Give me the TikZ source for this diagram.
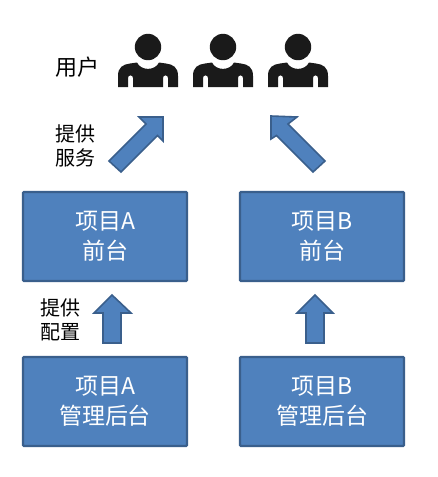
\documentclass[tikz,border=0pt]{standalone}
\usepackage{fontspec}
\setmainfont{Noto Sans CJK SC}
\definecolor{boxfill}{HTML}{4F81BD}
\definecolor{boxedge}{HTML}{3A5F8C}
\definecolor{inkdark}{HTML}{1A1A1A}
\tikzset{
  projbox/.style={draw=boxedge,line width=2.4pt,fill=boxfill,rounded corners=1pt,minimum width=164pt,minimum height=89pt,inner sep=0pt,text=white,font=\fontsize{23}{30}\selectfont,align=center},
  lbl/.style={inner sep=0pt,text=black,font=\fontsize{20}{24.5}\selectfont,align=center},
  userlbl/.style={lbl,font=\fontsize{22}{26}\selectfont},
  blockarrow/.style={draw=boxedge,line width=1.6pt,fill=boxfill,miter limit=10},
  personart/.style={fill=inkdark,draw=none}
}
\newcommand{\personfig}[2]{%
  \begin{scope}[shift={(#1,#2)}]
    \fill[personart] (0,0) circle (13.2);
    \fill[personart]
      (-30,40) -- (-30,29) .. controls (-30,20) and (-25,17.5) .. (-18,16.5)
      -- (-11,15.5) .. controls (-7,24) and (7,24) .. (11,15.5)
      -- (18,16.5) .. controls (25,17.5) and (30,20) .. (30,29)
      -- (30,40) -- (20,40) -- (20,31) .. controls (20,27.5) and (15,27.5) .. (15,31)
      -- (15,40) -- (-15,40) -- (-15,31) .. controls (-15,27.5) and (-20,27.5) .. (-20,31)
      -- (-20,40) -- cycle;
  \end{scope}}
\begin{document}
\begin{tikzpicture}[x=1pt,y=-1pt]
\useasboundingbox (0,0) rectangle (437,477);
\fill[white] (0,0) rectangle (437,477);
\personfig{148}{47}
\personfig{223}{47}
\personfig{298}{47}
\node[userlbl] (users) at (77,67) {用户};
\node[lbl] (serve) at (75,146) {提供\\服务};
\node[lbl] (conf) at (60,320) {提供\\配置};
\node[projbox] (afront) at (105,236.5) {项目A\\前台};
\node[projbox] (bfront) at (322,236.5) {项目B\\前台};
\node[projbox] (aadmin) at (105,401.5) {项目A\\管理后台};
\node[projbox] (badmin) at (322,401.5) {项目B\\管理后台};
\draw[blockarrow] (163,117) -- (139,117) -- (146,124) -- (109,161) -- (121,172) -- (157.5,135.5) -- (163,141) -- cycle;
\draw[blockarrow] (271,116) -- (297,117) -- (288,124) -- (325,161) -- (313,172) -- (276.5,135.5) -- (271,139) -- cycle;
\draw[blockarrow] (112,295) -- (131,313) -- (121,313) -- (121,343) -- (103,343) -- (103,313) -- (94,313) -- cycle;
\draw[blockarrow] (315,295) -- (333,313) -- (324,313) -- (324,343) -- (306,343) -- (306,313) -- (297,313) -- cycle;
\end{tikzpicture}
\end{document}
